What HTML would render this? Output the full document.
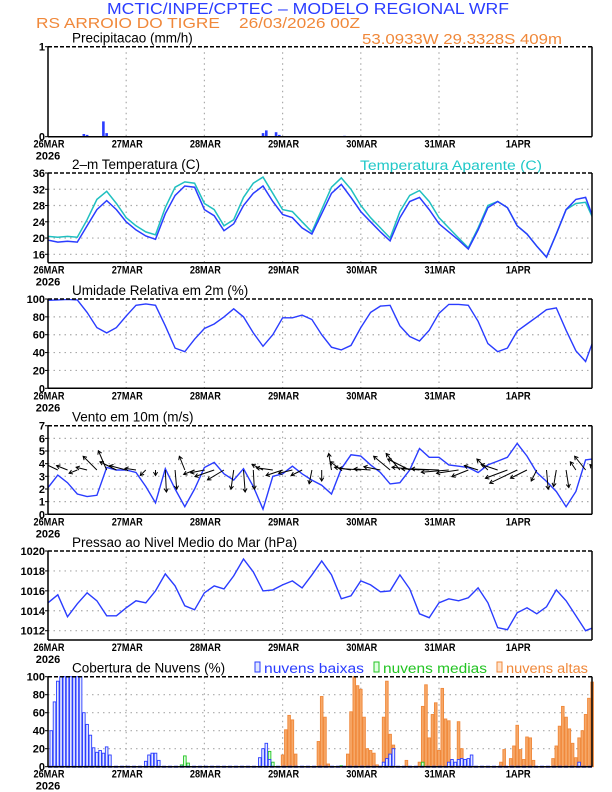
<!DOCTYPE html>
<html><head><meta charset="utf-8"><style>
html,body{margin:0;padding:0;background:#fff;}
svg{display:block;font-family:"Liberation Sans",sans-serif;}
</style></head><body>
<svg id="chart" width="612" height="792" viewBox="0 0 612 792" xmlns="http://www.w3.org/2000/svg"></svg>
<script>
// ---- data ----
const days = ["26MAR","27MAR","28MAR","29MAR","30MAR","31MAR","1APR"];
const hours3 = [0,3,6,9,12,15,18,21,24,27,30,33,36,39,42,45,48,51,54,57,60,63,66,69,72,75,78,81,84,87,90,93,96,99,102,105,108,111,114,117,120,123,126,129,132,135,138,141,144,147,150,153,156,159,162,165,168];
const precipHours = [11,12,17,18,66,67,70,71,91];
const precipVals = [0.03,0.02,0.17,0.04,0.04,0.07,0.05,0.02,0.01];
const tempVals = [19.5,19,19.2,19,23,27,29.2,27,24,22,20.5,19.7,26,30.5,32.8,32.5,27,25.5,21.8,23.5,28,31,32.8,29,25.8,25,22.5,21,26,31,33.2,30,26.5,24,21.5,19.3,25,29,30,27,23.5,21.5,19.5,17.3,22,27.5,29,27.5,23,21,18,15.3,21,27,29.5,30,23.5];
const apparentVals = [20.4,20.2,20.4,20.2,24.5,29.5,31.5,28.5,25,23,21.5,20.8,27.5,32.5,33.8,33.5,28.5,27,23,24.5,30,33.5,35,31,27,26.5,24,21.5,27,32.5,34.8,32,28,25,22.5,20,26.5,30.5,31.7,29,25,22.5,20,17.6,22.5,28,29,27.5,23,21,18,15.3,21,27,28.5,28.8,23.5];
const humidityVals = [98.5,99,99.5,99,85,68,62,68,81,93,94.5,93,70,45,41,55,67,72,80,89,80,62,47,60,79,79,82,77,60,46,43,48,68,85,92,93,70,58,53,65,84,94,94,93,75,50,41,45,64,72,80,88,90,65,42,30,60];
const windSpeed = [2.1,3.1,2.5,1.6,1.4,1.5,3.7,3.5,3.5,3.3,2.2,0.9,3.6,2,0.6,2,3.7,4.1,3.2,2.7,3.6,2.2,0.4,3,3.2,3.8,3.2,2.7,2.3,1.6,3.6,4.7,4.6,3.9,3.3,2.4,2.5,3.5,5.2,4.5,4.5,3.9,3.8,3.7,3.3,3.9,4.2,4.5,5.6,4.6,3.3,2.6,1.8,0.6,1.8,4.3,4.4];
const windU = [-3,-2.5,-2,-1.5,-2,-2.5,-1.5,-3,-3,-2,-1,0,0.2,0.3,-1,-2,-2.5,-3.5,-3,-0.5,0.3,0.2,-2,-3,-3,-2.5,-2,-0.5,0,-0.5,-2,-3,-4,-3,-3,-3,-2.5,-4,-5,-5,-5,-5,-4,-3,-2.5,-2,-3,-4,-5,-3,-1,0.3,-0.5,0.5,-1,-2,-1];
const windV = [1.5,1.2,0.8,-0.6,0.5,2.5,3.5,1.5,0.8,0.3,-1,-1,-4,-3.5,2.5,-0.8,-0.5,-1.2,-1.8,-3.5,-4,-3.5,1,0.4,-1,-0.6,-1,-2.5,-2,3,1.5,0.5,0.3,0.2,0.6,2.5,3,2,0.5,0.2,0.2,-0.4,-0.6,-1.2,0.8,2,1,-1.5,-2.4,-1.5,-2,-3.5,-3,-3.2,1.5,2.5,1];
const pressureVals = [1014.8,1015.6,1013.4,1014.7,1015.8,1015,1013.5,1013.5,1014.3,1015,1014.8,1016,1017.7,1016.5,1014.5,1014.1,1015.8,1016.5,1016.2,1017.5,1019.2,1017.9,1016,1016.1,1016.6,1017,1016.3,1017.6,1019,1017.6,1015.2,1015.5,1017,1016.6,1015.9,1016,1017.6,1016.2,1013.7,1013.3,1014.8,1015.2,1015,1015.3,1016.3,1014.8,1012.3,1012.1,1013.8,1014.3,1013.7,1014.4,1016.1,1015,1013.5,1012,1012.4];
const lowHours = [1,2,3,4,5,6,7,8,9,10,11,12,13,14,15,16,17,18,19,30,31,32,33,34,65,66,67,68,103,104,105,106,123,124,125,126,127,128,129,130,163];
const lowVals = [40,72,95,100,100,100,100,100,100,100,60,47,35,21,16,18,15,22,13,6,13,15,15,7,10,20,26,8,5,9,14,20,5,8,5,8,9,8,9,13,5];
const midHours = [41,42,43,68,69,90,115];
const midVals = [2,12,4,17,5,1,5];
const highHours = [72,73,74,75,76,83,84,85,86,92,93,94,95,96,97,98,99,100,101,103,104,105,106,110,114,115,116,117,118,119,120,121,122,123,126,127,139,140,142,143,144,145,146,147,148,149,155,156,157,158,159,160,161,162,163,164,165,166,167];
const highVals = [13,41,57,52,14,28,78,55,3,14,61,100,90,86,55,20,18,15,2,55,95,36,24,7,5,67,91,32,58,71,18,87,53,51,50,20,5,19,9,23,46,19,8,33,32,7,9,23,45,67,55,42,26,10,32,40,58,76,94];

// ---- helpers ----
const NS="http://www.w3.org/2000/svg";
const svg=document.getElementById('chart');
const X0=48, X1=592, DAYW=78.2;
const xh=h=>X0+h*DAYW/24;
function el(tag,attrs,parent){const e=document.createElementNS(NS,tag);for(const k in attrs)e.setAttribute(k,attrs[k]);(parent||svg).appendChild(e);return e;}
function txt(s,x,y,size,fill,anchor,parent,extra){const t=el('text',Object.assign({x:x,y:y,'font-size':size,fill:fill,'text-anchor':anchor||'start'},extra||{}),parent);t.textContent=s;return t;}
function scale(vA,yA,vB,yB){return v=>yA+(v-vA)*(yB-yA)/(vB-vA);}

const clip=el('defs',{});
function panel(name,top,bottom,ys,ticks,title,tx){
  const g=el('g',{});
  
  
  const cp=el('clipPath',{id:'c-'+name},clip);
  el('rect',{x:X0,y:top,width:X1-X0,height:bottom-top},cp);
  for(const t of ticks){
    const y=ys(t);
    if(y>top+1&&y<bottom-1){const gl=el('line',{x1:X0,x2:X1,y1:y,y2:y,stroke:'#aaa','stroke-width':1.2,'stroke-dasharray':'1.5,4'},g);
      }
    const tl=txt(String(t),X0-3,y+4,11,'#000','end',g,{'font-weight':'bold'});
    
    el('line',{x1:X0-3,x2:X0,y1:y,y2:y,stroke:'#000'},g);
  }
  days.forEach((d,i)=>{
    const x=xh(i*24);
    if(i>0){const gl=el('line',{x1:x,x2:x,y1:top,y2:bottom,stroke:'#aaa','stroke-width':1.2,'stroke-dasharray':'1.5,4'},g);
      }
    const dl=txt(d,x+1,bottom+11,11,'#000','middle',g,{'font-weight':'bold','textLength':d.length>4?31:25,'lengthAdjust':'spacingAndGlyphs'});
    
  });
  const yl=txt('2026',X0,bottom+23,11,'#000','middle',g,{'font-weight':'bold'});
  
  const tt=txt(title,72,top-4,13.5,'#000','start',g,tx||{});
  
  return g;
}
function frame(g,top,bottom){
  el('line',{x1:X0,x2:X1,y1:top,y2:top,stroke:'#000','stroke-width':1.5,'stroke-dasharray':'4,2'},g);
  el('line',{x1:X0,x2:X0,y1:top,y2:bottom,stroke:'#000','stroke-width':1.5},g);
  el('line',{x1:X1,x2:X1,y1:top,y2:bottom,stroke:'#000','stroke-width':1.5},g);
  el('line',{x1:X0,x2:X1,y1:bottom,y2:bottom,stroke:'#000','stroke-width':1.5},g);
}
function line(g,name,hs,vs,ys,color,w,cid){
  const d=hs.map((h,i)=>(i?'L':'M')+xh(h).toFixed(1)+','+ys(vs[i]).toFixed(1)).join(' ');
  const p=el('path',{d:d,fill:'none',stroke:color,'stroke-width':w||1.4,'clip-path':'url(#c-'+cid+')'},g);
  
  
}

// ---- header ----
let h1=txt('MCTIC/INPE/CPTEC – MODELO REGIONAL WRF',308,14,15.5,'#2a3cff','middle',svg,{textLength:402,lengthAdjust:'spacingAndGlyphs'});

let h2=txt('RS ARROIO DO TIGRE\u00a0\u00a0\u00a0\u00a026/03/2026 00Z',36,28,15,'#f0883a','start',svg,{textLength:324,lengthAdjust:'spacingAndGlyphs'});


// ---- panel 1 precip ----
const yP=scale(0,136.7,1,46.7);
let g1=panel('precip-panel',46.7,136.7,yP,[0,1],'Precipitacao (mm/h)');
let loc=txt('53.0933W 29.3328S 409m',362,44,14.5,'#f0883a','start',g1,{textLength:200,lengthAdjust:'spacingAndGlyphs'});

precipHours.forEach((h,i)=>{
  const b=el('rect',{x:xh(h)-1.3,y:yP(precipVals[i]),width:2.6,height:yP(0)-yP(precipVals[i]),fill:'#2a3cff'},g1);
  
  
});
el('line',{x1:X0,x2:X1,y1:yP(0),y2:yP(0),stroke:'#2a3cff','stroke-width':1.2,'stroke-dasharray':'3,2'},g1);
frame(g1,46.7,136.7);

// ---- panel 2 temperature ----
const yT=scale(16,254.3,36,173);
let g2=panel('temperature-panel',173,262.7,yT,[16,20,24,28,32,36],'2–m Temperatura (C)');
let ap=txt('Temperatura Aparente (C)',360,170,13.5,'#20c8c8','start',g2,{textLength:182,lengthAdjust:'spacingAndGlyphs'});

line(g2,'apparent-temp-line',hours3,apparentVals,yT,'#20c0c0',1.5,'temperature-panel');
line(g2,'temp-line',hours3,tempVals,yT,'#2a3cff',1.5,'temperature-panel');
frame(g2,173,262.7);

// ---- panel 3 humidity ----
const yH=scale(0,388.3,100,299);
let g3=panel('humidity-panel',299,388.3,yH,[0,20,40,60,80,100],'Umidade Relativa em 2m (%)');
line(g3,'humidity-line',hours3,humidityVals,yH,'#2a3cff',1.4,'humidity-panel');
frame(g3,299,388.3);

// ---- panel 4 wind ----
const yW=scale(0,514.3,7,425.7);
let g4=panel('wind-panel',425.7,514.3,yW,[0,1,2,3,4,5,6,7],'Vento em 10m (m/s)');
line(g4,'wind-speed-line',hours3,windSpeed,yW,'#2a3cff',1.4,'wind-panel');
const S=5.5;
hours3.forEach((h,i)=>{
  const x=xh(h), y=yW(3.5);
  const x2=x+windU[i]*S, y2=y-windV[i]*S;
  const ang=Math.atan2(y2-y,x2-x);
  const a=el('g',{'clip-path':'url(#c-wind-panel)'},g4);
  
  
  el('line',{x1:x,y1:y,x2:x2,y2:y2,stroke:'#000','stroke-width':1},a);
  const hl=4;
  el('path',{d:`M${x2+hl*Math.cos(ang+2.6)},${y2+hl*Math.sin(ang+2.6)} L${x2},${y2} L${x2+hl*Math.cos(ang-2.6)},${y2+hl*Math.sin(ang-2.6)}`,fill:'none',stroke:'#000','stroke-width':1},a);
});
frame(g4,425.7,514.3);

// ---- panel 5 pressure ----
const yPr=scale(1012,630.7,1020,551);
let g5=panel('pressure-panel',551,640,yPr,[1012,1014,1016,1018,1020],'Pressao ao Nivel Medio do Mar (hPa)');
line(g5,'pressure-line',hours3,pressureVals,yPr,'#2a3cff',1.4,'pressure-panel');
frame(g5,551,640);

// ---- panel 6 clouds ----
const yC=scale(0,766.7,100,676.7);
let g6=panel('cloud-panel',676.7,766.7,yC,[0,20,40,60,80,100],'Cobertura de Nuvens (%)');
function legend(label,x,color,fillc,name,w){
  const lg=el('g',{},g6);
  
  
  el('rect',{x:x,y:662,width:5,height:10,fill:fillc,stroke:color,'stroke-width':1},lg);
  txt(label,x+9,673,13.5,color,'start',lg,{textLength:w,lengthAdjust:'spacingAndGlyphs'});
}
legend('nuvens baixas',255,'#2a3cff','#dfe5ff','legend-low-clouds',100);
legend('nuvens medias',374,'#22c422','#e0ffe0','legend-mid-clouds',104);
legend('nuvens altas',497,'#f0883a','#ffe3cc','legend-high-clouds',82);
function bars(hs,vs,stroke,fill,name){
  hs.forEach((h,i)=>{
    const b=el('rect',{x:xh(h)-1.3,y:yC(vs[i]),width:2.6,height:yC(0)-yC(vs[i]),fill:fill,stroke:stroke,'stroke-width':0.9},g6);
    
    
  });
}
bars(highHours,highVals,'#f0883a','#f6a868','high-cloud-bar');
bars(midHours,midVals,'#22c422','#d8ffd8','mid-cloud-bar');
bars(lowHours,lowVals,'#2a3cff','#e4e9ff','low-cloud-bar');
el('line',{x1:X0,x2:X1,y1:yC(0),y2:yC(0),stroke:'#2a3cff','stroke-width':2,'stroke-dasharray':'4,2'},g6);
frame(g6,676.7,766.7);
</script>
</body></html>
